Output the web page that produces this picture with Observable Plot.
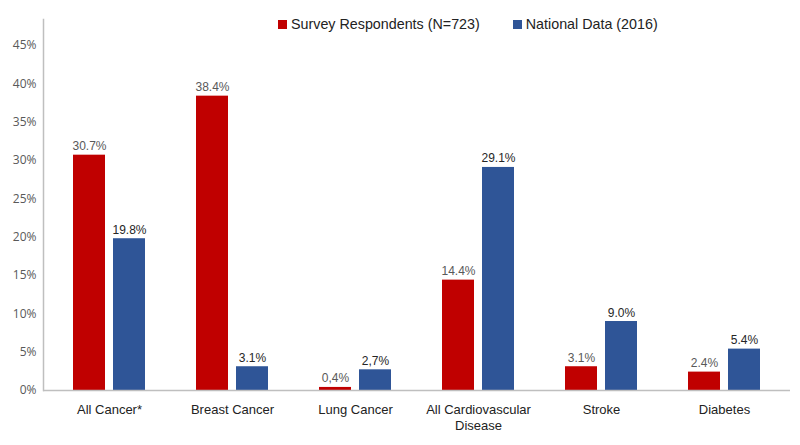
<!DOCTYPE html>
<html>
<head>
<meta charset="utf-8">
<script src="https://cdn.jsdelivr.net/npm/d3@7"></script>
<script src="https://cdn.jsdelivr.net/npm/@observablehq/plot@0.6"></script>
<style>
  html, body { margin: 0; padding: 0; background: #fff; }
  #wrap { position: relative; width: 800px; height: 445px; }
  #legend { position: absolute; top: 16px; left: 278px; display: flex; gap: 33px;
    font-family: "Liberation Sans", Arial, sans-serif; font-size: 14.3px; color: #222; }
  .item { display: flex; align-items: center; }
  .sw { width: 9px; height: 9px; margin-right: 4px; }
</style>
</head>
<body>
<div id="wrap">
  <div id="legend"></div>
  <div id="chart"></div>
</div>
<script>
const categories = ["All Cancer*", "Breast Cancer", "Lung Cancer", "All Cardiovascular Disease", "Stroke", "Diabetes"];
const xTickLabels = ["All Cancer*", "Breast Cancer", "Lung Cancer", "All Cardiovascular\nDisease", "Stroke", "Diabetes"];
const surveyValues = [0.307, 0.384, 0.004, 0.144, 0.031, 0.024];
const nationalValues = [0.198, 0.031, 0.027, 0.291, 0.090, 0.054];
const surveyLabels = ["30.7%", "38.4%", "0,4%", "14.4%", "3.1%", "2.4%"];
const nationalLabels = ["19.8%", "3.1%", "2,7%", "29.1%", "9.0%", "5.4%"];
const seriesNames = ["Survey Respondents (N=723)", "National Data (2016)"];
const seriesColors = ["#C00000", "#2F5597"];
const yTicks = [0, 0.05, 0.10, 0.15, 0.20, 0.25, 0.30, 0.35, 0.40, 0.45];

const rows = categories.map((c, i) => ({
  cat: c, survey: surveyValues[i], national: nationalValues[i],
  sLabel: surveyLabels[i], nLabel: nationalLabels[i]
}));

const legend = document.getElementById("legend");
seriesNames.forEach((n, i) => {
  const it = document.createElement("div");
  it.className = "item";
  it.innerHTML = `<span class="sw" style="background:${seriesColors[i]}"></span><span>${n}</span>`;
  legend.appendChild(it);
});

const font = "'Liberation Sans', Arial, sans-serif";
const chart = Plot.plot({
  width: 800,
  height: 445,
  marginTop: 19,
  marginBottom: 55,
  marginLeft: 43,
  marginRight: 10,
  style: { fontFamily: font, background: "transparent", color: "#222" },
  x: { domain: categories, paddingInner: 0.4165, paddingOuter: 0.235 },
  y: { domain: [0, 0.484] },
  marks: [
    Plot.barY(rows, { x: "cat", y: "survey", fill: seriesColors[0], insetRight: 40 }),
    Plot.barY(rows, { x: "cat", y: "national", fill: seriesColors[1], insetLeft: 40 }),
    Plot.text(rows, { x: "cat", y: "survey", text: "sLabel", dx: -20, dy: -5, lineAnchor: "bottom",
      fontSize: 12, fill: "#595959", fontFamily: font }),
    Plot.text(rows, { x: "cat", y: "national", text: "nLabel", dx: 20, dy: -5, lineAnchor: "bottom",
      fontSize: 12, fill: "#262626", fontFamily: font }),
    Plot.ruleY([0], { stroke: "#bfbfbf", strokeWidth: 1.5 }),
    Plot.frame({ anchor: "left", stroke: "#bfbfbf", strokeWidth: 1.5 }),
    Plot.axisY({ ticks: yTicks, tickFormat: d3.format(".0%"), tickSize: 0, tickPadding: 7, label: null,
      fontSize: 12, fontFamily: "'Open Sans', sans-serif", fill: "#595959" }),
    Plot.axisX({ tickSize: 0, tickPadding: 11, label: null, fontSize: 13, fontFamily: font, fill: "#222",
      lineHeight: 1.3, tickFormat: d => xTickLabels[categories.indexOf(d)] })
  ]
});
document.getElementById("chart").appendChild(chart);
</script>
</body>
</html>
